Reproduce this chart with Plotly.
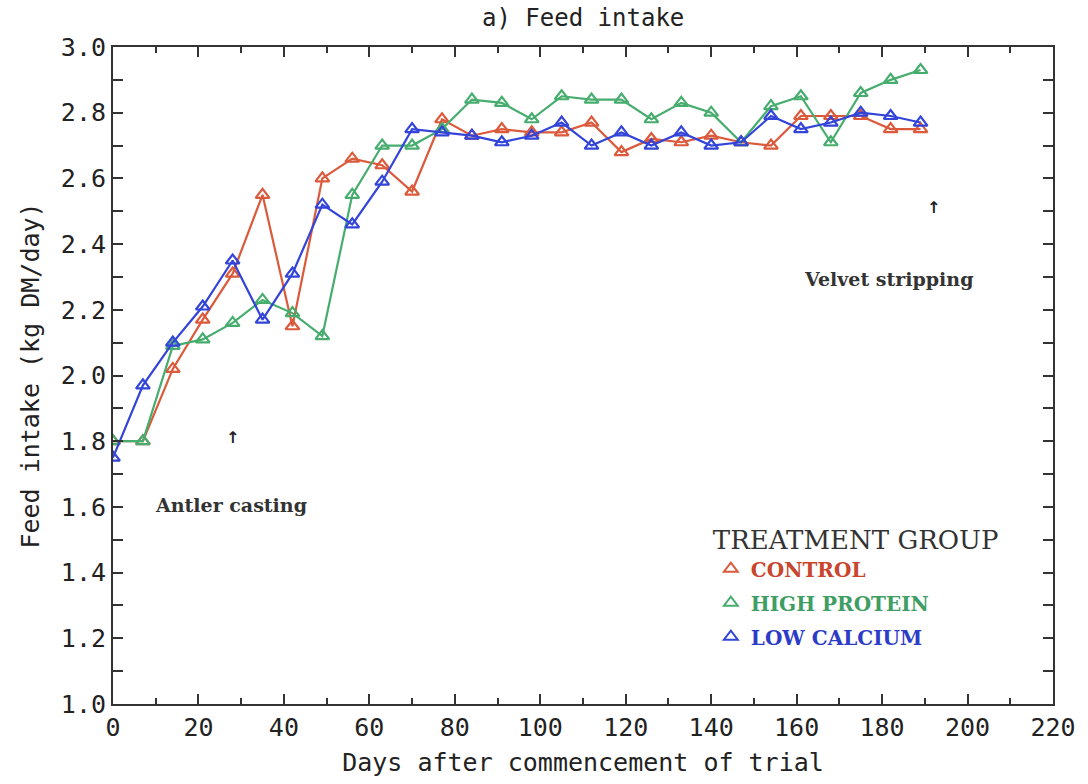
import plotly.graph_objects as go

days = [0, 7, 14, 21, 28, 35, 42, 49, 56, 63, 70, 77, 84, 91, 98, 105, 112, 119,
        126, 133, 140, 147, 154, 161, 168, 175, 182, 189]
control = [1.80, 1.80, 2.02, 2.17, 2.31, 2.55, 2.15, 2.60, 2.66, 2.64, 2.56, 2.78,
           2.73, 2.75, 2.74, 2.74, 2.77, 2.68, 2.72, 2.71, 2.73, 2.71, 2.70, 2.79,
           2.79, 2.79, 2.75, 2.75]
high_protein = [1.80, 1.80, 2.09, 2.11, 2.16, 2.23, 2.19, 2.12, 2.55, 2.70, 2.70, 2.75,
                2.84, 2.83, 2.78, 2.85, 2.84, 2.84, 2.78, 2.83, 2.80, 2.71, 2.82, 2.85,
                2.71, 2.86, 2.90, 2.93]
low_calcium = [1.75, 1.97, 2.10, 2.21, 2.35, 2.17, 2.31, 2.52, 2.46, 2.59, 2.75, 2.74,
               2.73, 2.71, 2.73, 2.77, 2.70, 2.74, 2.70, 2.74, 2.70, 2.71, 2.79, 2.75,
               2.77, 2.80, 2.79, 2.77]

series = [
    ("CONTROL", control, "#dc5a3c", "#c8452e"),
    ("HIGH PROTEIN", high_protein, "#47ad6e", "#3f9e64"),
    ("LOW CALCIUM", low_calcium, "#3344d8", "#2d3cc8"),
]

fig = go.Figure()
for name, vals, col, tcol in series:
    fig.add_trace(go.Scatter(
        x=days, y=vals, mode="lines+markers", showlegend=False,
        line=dict(color=col, width=2.2),
        marker=dict(symbol="triangle-up-open", size=12, color=col, line=dict(width=2.2, color=col)),
    ))
for name, vals, col, tcol in series:
    fig.add_trace(go.Scatter(
        x=[None], y=[None], mode="markers", legendgroup=name,
        name=f"<b><span style='color:{tcol}'>{name}</span></b>",
        marker=dict(symbol="triangle-up-open", size=8, color=col, line=dict(width=2, color=col)),
    ))

mono = "DejaVu Sans Mono"
serif = "DejaVu Serif"

fig.update_layout(
    width=1088, height=784,
    margin=dict(l=113, r=28, t=47, b=78),
    paper_bgcolor="white", plot_bgcolor="white",
    title=dict(text="a) Feed intake", x=0.536, xanchor="center", y=0.978, yanchor="middle",
               font=dict(family=mono, size=24, color="#222")),
    font=dict(family=mono, color="#222"),
    xaxis=dict(range=[0, 220], tickmode="array", tickvals=list(range(0, 221, 20)),
               ticks="inside", ticklen=10, tickwidth=1.5, tickcolor="#333",
               minor=dict(tickvals=list(range(10, 220, 20)), ticks="inside", ticklen=6,
                          tickwidth=1.5, tickcolor="#333"),
               showline=True, linecolor="#333", linewidth=2, mirror="ticks",
               showgrid=False, zeroline=False,
               tickfont=dict(family=mono, size=25, color="#222"),
               title=dict(text="Days after commencement of trial", standoff=12,
                          font=dict(family=mono, size=25, color="#222"))),
    yaxis=dict(range=[1.0, 3.0], tickmode="array", tickvals=[1.0 + 0.2 * i for i in range(11)],
               ticktext=[f"{1.0 + 0.2 * i:.1f}" for i in range(11)],
               ticks="inside", ticklen=10, tickwidth=1.5, tickcolor="#333",
               minor=dict(tickvals=[1.1 + 0.2 * i for i in range(10)], ticks="inside", ticklen=10,
                          tickwidth=1.5, tickcolor="#333"),
               showline=True, linecolor="#333", linewidth=2, mirror="ticks",
               showgrid=False, zeroline=False,
               tickfont=dict(family=mono, size=25, color="#222"),
               title=dict(text="Feed intake (kg DM/day)", standoff=14,
                          font=dict(family=mono, size=25, color="#222"))),
    legend=dict(x=0.636, y=0.287, xanchor="left", yanchor="top",
                bgcolor="rgba(0,0,0,0)",
                title=dict(text="TREATMENT GROUP", font=dict(family=serif, size=26, color="#333")),
                font=dict(family=serif, size=20), itemsizing="constant", tracegroupgap=5),
)

fig.add_annotation(x=28, y=1.81, text="<b>↑</b>", showarrow=False,
                   font=dict(family="DejaVu Sans", size=16, color="#222"))
fig.add_annotation(x=27.5, y=1.605, text="<b>Antler casting</b>", showarrow=False,
                   font=dict(family=serif, size=19, color="#333"))
fig.add_annotation(x=192, y=2.51, text="<b>↑</b>", showarrow=False,
                   font=dict(family="DejaVu Sans", size=16, color="#222"))
fig.add_annotation(x=181.5, y=2.295, text="<b>Velvet stripping</b>", showarrow=False,
                   font=dict(family=serif, size=19, color="#333"))

fig.write_html("out.html")
